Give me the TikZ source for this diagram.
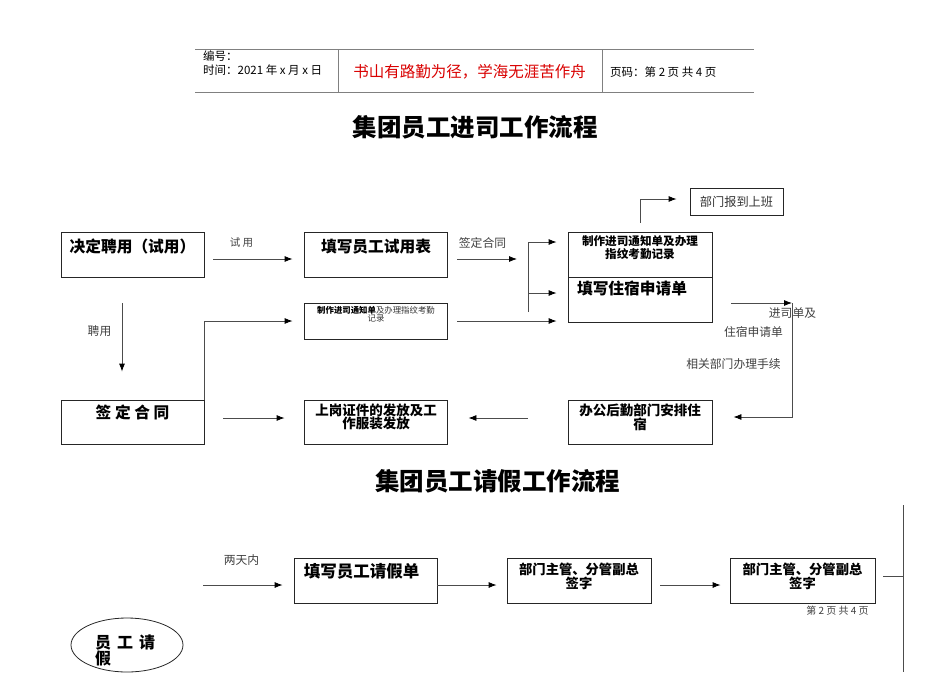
\documentclass[tikz,border=0pt]{standalone}
\usepackage{fontspec}
\setmainfont{Noto Sans CJK SC}
\usetikzlibrary{arrows.meta,shapes.geometric}

\begin{document}
\begin{tikzpicture}[x=1pt,y=-1pt,
	box/.style={draw=black!85, line width=0.8pt, inner sep=0pt, minimum width=143pt, minimum height=45pt},
	big/.style={font=\fontsize{15.7}{18}\selectfont\bfseries, inner sep=0pt},
	mid/.style={font=\fontsize{13.5}{13}\selectfont\bfseries, align=center, inner sep=0pt},
	lbl/.style={font=\fontsize{11.8}{13}\selectfont, text=black!75, inner sep=0pt},
	head/.style={font=\fontsize{11.5}{13}\selectfont, inner sep=0pt, anchor=west},
	title/.style={font=\fontsize{24.5}{28}\selectfont\bfseries, inner sep=0pt},
	hline/.style={draw=black!50, line width=1pt},
	wire/.style={draw=black!70, line width=0.8pt},
	arr/.style={wire, -{Latex[length=8pt,width=6pt,color=black]}}]
	\useasboundingbox (0,0) rectangle (950,672);

	\draw[hline] (195,49) -- (754,49) (195,92) -- (754,92) (338,49) -- (338,92) (602,49) -- (602,92);
	\node[head] (no) at (203,56) {编号：};
	\node[head] (date) at (203,70) {时间：2021 年 x 月 x 日};
	\node[inner sep=0pt, text=red!85!black, font=\fontsize{15.5}{18}\selectfont] (motto) at (469.5,72) {书山有路勤为径，学海无涯苦作舟};
	\node[head] (page) at (610,72) {页码：第 2 页 共 4 页};

	\node[title] (t1) at (475,127) {集团员工进司工作流程};
	\node[title] (t2) at (497.5,481) {集团员工请假工作流程};

	\node[box] (hire) at (132.5,254.5) {};
	\node[big] (hireT) at ([yshift=-15pt]hire.north) {决定聘用（试用）};
	\node[box] (form) at (376,254.5) {};
	\node[big] (formT) at ([yshift=-15pt]form.north) {填写员工试用表};
	\node[box, minimum width=144pt] (notice) at (640,254.5) {};
	\node[mid, font=\fontsize{11.6}{13}\selectfont\bfseries] (noticeT) at ([yshift=-16.5pt]notice.north) {制作进司通知单及办理\\指纹考勤记录};
	\node[box, minimum width=144pt] (dorm) at (640,299.5) {};
	\node[big] (dormT) at ([xshift=-8pt,yshift=-12pt]dorm.north) {填写住宿申请单};
	\node[box, minimum height=36pt] (card) at (376,321) {};
	\node[inner sep=0pt, align=center, text=black!80, font=\fontsize{8.4}{8}\selectfont] (cardT) at ([yshift=-11.5pt]card.north) {\textbf{\color{black}制作进司通知单}及办理指纹考勤\\记录};
	\node[box, minimum width=93pt, minimum height=27pt, text=black!80, font=\fontsize{12.2}{14}\selectfont] (report) at (736.5,201.5) {部门报到上班};

	\node[box, minimum height=44pt] (sign) at (132.5,422) {};
	\node[big] (signT) at ([yshift=-13pt]sign.north) {签 定 合 同};
	\node[box, minimum height=44pt] (badge) at (376,422) {};
	\node[mid] (badgeT) at ([yshift=-17.5pt]badge.north) {上岗证件的发放及工\\作服装发放};
	\node[box, minimum width=144pt, minimum height=44pt] (admin) at (640,422) {};
	\node[mid] (adminT) at ([yshift=-17.5pt]admin.north) {办公后勤部门安排住\\宿};

	\coordinate (brIn) at (528,259);
	\coordinate (brT) at (528,242);
	\coordinate (brM) at (528,293);
	\coordinate (brB) at (528,312);
	\coordinate (turn) at (792,303);
	\draw[arr, shorten <=9pt, shorten >=11.5pt] ([yshift=-4.5pt]hire.east) -- ([yshift=-4.5pt]form.west);
	\draw[arr, shorten <=9.5pt, shorten >=11pt] ([yshift=-4.5pt]form.east) -- (brIn);
	\draw[wire] (brB) -- (brT);
	\draw[arr, shorten >=11pt] (brT) -- (brT -| notice.west);
	\draw[arr, shorten >=11pt] (brM) -- (brM -| dorm.west);
	\draw[arr, shorten <=9.5pt, shorten >=11pt] (card.east) -- (card.east -| dorm.west);
	\draw[arr, shorten >=13pt] ([yshift=9pt]notice.north) |- ([yshift=2.5pt]report.west);
	\draw[arr, shorten <=26pt, shorten >=28pt] ([xshift=-10.5pt]hire.south) -- ([xshift=-10.5pt]sign.north);
	\draw[arr, shorten >=11.5pt] (sign.north east) |- (card.west);
	\draw[arr, shorten <=19pt, shorten >=19.5pt] ([yshift=4pt]sign.east) -- ([yshift=4pt]badge.west);
	\draw[arr, shorten <=40pt, shorten >=20.5pt] ([yshift=4pt]admin.west) -- ([yshift=4pt]badge.east);
	\draw[arr, shorten <=19pt] ([yshift=-3.5pt]dorm.east) -- (turn);
	\draw[arr, shorten >=21pt] (turn) |- ([yshift=5pt]admin.east);

	\node[lbl, font=\fontsize{10.5}{12}\selectfont] (trial) at (241.5,243) {试 用};
	\node[lbl] (contract) at (482.5,243) {签定合同};
	\node[lbl] (employ) at (99.5,331) {聘用};
	\node[lbl] (slip1) at (792.5,313) {进司单及};
	\node[lbl] (slip2) at (753.5,332) {住宿申请单};
	\node[lbl] (proc) at (733.5,364) {相关部门办理手续};

	\node[box] (leave) at (365.5,580.5) {};
	\node[big, font=\fontsize{16.5}{18}\selectfont\bfseries] (leaveT) at ([xshift=-4pt,yshift=-14pt]leave.north) {填写员工请假单};
	\node[box, minimum width=144pt] (mgr) at (579,580.5) {};
	\node[mid, font=\fontsize{13.3}{12.5}\selectfont\bfseries] (mgrT) at ([yshift=-19pt]mgr.north) {部门主管、分管副总\\签字};
	\node[box, minimum width=145pt] (mgr2) at (802.5,580.5) {};
	\node[mid, font=\fontsize{13.3}{12.5}\selectfont\bfseries] (mgr2T) at ([yshift=-19pt]mgr2.north) {部门主管、分管副总\\签字};
	\node[draw=black!85, line width=0.8pt, ellipse, minimum width=112pt, minimum height=54pt, inner sep=0pt] (start) at (127,645) {};
	\node[inner sep=0pt, align=left, anchor=north west, font=\fontsize{16}{16}\selectfont\bfseries] (startT) at (95,635) {员\hspace{6pt}工\hspace{6pt}请\\假};

	\coordinate (in) at (203,585);
	\coordinate (rT) at (903,505);
	\coordinate (rB) at (903,672);
	\draw[arr, shorten >=11pt] (in) -- ([yshift=-4.5pt]leave.west);
	\draw[arr, shorten >=10pt] ([yshift=-4.5pt]leave.east) -- ([yshift=-4.5pt]mgr.west);
	\draw[arr, shorten <=9pt, shorten >=9pt] ([yshift=-4.5pt]mgr.east) -- ([yshift=-4.5pt]mgr2.west);
	\draw[wire] (rT) -- (rB);
	\draw[wire, shorten <=8pt] ([yshift=4.5pt]mgr2.east) -| (rT);

	\node[lbl] (days) at (241.5,560) {两天内};
	\node[lbl, font=\fontsize{10}{12}\selectfont] (foot) at (837.5,611) {第 2 页 共 4 页};
\end{tikzpicture}
\end{document}
